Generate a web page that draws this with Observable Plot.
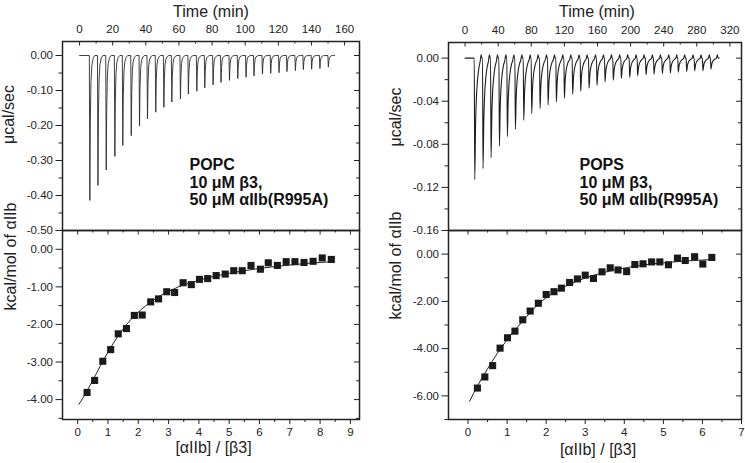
<!DOCTYPE html>
<html><head><meta charset="utf-8">
<script src="https://cdn.jsdelivr.net/npm/d3@7"></script>
<script src="https://cdn.jsdelivr.net/npm/@observablehq/plot@0.6"></script>
<style>
body{margin:0;background:#fff;}
#chart{position:relative;width:745px;height:463px;overflow:hidden;font-family:"Liberation Sans",Arial,sans-serif;}
#chart svg{position:absolute;left:0;top:0;}
</style></head><body><div id="chart"></div>
<script>
// ---------- data ----------
// POPC raw thermogram: injection times (min) and peak heights (µcal/sec)
const popcInjTime = [6.2,11.1,16.1,21.3,26.1,31.2,36.2,41.0,46.0,50.9,55.7,60.9,65.7,70.8,75.6,80.6,85.4,90.5,95.5,100.5,105.3,110.4,115.4,120.4,125.2,130.3,135.1,140.1,145.1,150.2];
const popcPeak = [-0.414,-0.371,-0.327,-0.288,-0.257,-0.229,-0.201,-0.181,-0.162,-0.148,-0.133,-0.124,-0.110,-0.102,-0.092,-0.084,-0.077,-0.071,-0.066,-0.062,-0.058,-0.053,-0.051,-0.049,-0.046,-0.043,-0.040,-0.039,-0.037,-0.033];
const popcRun = [0, 154];
const popcShapeDt = [-0.3, 0, 0.3, 0.7, 1.2, 2.0, 3.0];
const popcShapeFrac = [0, 1, 0.45, 0.18, 0.07, 0.02, 0];
const popcShapeLift = [0, 0, 0, 0, 0, 0, 0];

// POPS raw thermogram
const popsInjTime = [11.7,21.7,31.4,41.5,51.1,60.8,70.9,80.5,90.6,100.3,110.3,120.0,130.0,139.7,149.8,159.4,169.1,179.1,188.8,198.9,208.5,218.6,228.3,238.3,248.0,257.6,267.7,277.4,287.4,297.1];
const popsPeak = [-0.1126,-0.1026,-0.0924,-0.0816,-0.0729,-0.0660,-0.0577,-0.0515,-0.0468,-0.0434,-0.0406,-0.0372,-0.0335,-0.0307,-0.0279,-0.0251,-0.0220,-0.0205,-0.0189,-0.0180,-0.0164,-0.0155,-0.0149,-0.0143,-0.0140,-0.0130,-0.0124,-0.0118,-0.0118,-0.0102];
const popsRun = [0, 307];
const popsShapeDt = [-0.6, 0, 1.0, 2.0, 3.5, 5.0, 6.5, 7.8, 8.6];
const popsShapeFrac = [0, 1, 0.55, 0.33, 0.17, 0.08, 0.03, 0, 0];
const popsShapeLift = [0, 0, 0, 0, 0, 0, 0, 0.003, 0];

// integrated heats
const popcRatio = [0.31,0.56,0.83,1.09,1.34,1.61,1.87,2.13,2.41,2.67,2.94,3.20,3.48,3.75,4.02,4.29,4.57,4.87,5.15,5.43,5.72,6.03,6.29,6.59,6.88,7.17,7.47,7.77,8.07,8.37];
const popcHeat = [-3.81,-3.49,-2.98,-2.67,-2.25,-2.11,-1.76,-1.75,-1.40,-1.32,-1.13,-1.15,-0.89,-0.94,-0.80,-0.78,-0.70,-0.66,-0.57,-0.57,-0.43,-0.53,-0.36,-0.43,-0.33,-0.33,-0.35,-0.32,-0.23,-0.27];
const popcFitRatio = [0.05,0.3,0.6,0.9,1.2,1.5,1.8,2.1,2.4,2.7,3.0,3.3,3.6,3.9,4.2,4.5,5.0,5.5,6.0,6.5,7.0,7.5,8.0,8.4];
const popcFitHeat = [-4.12,-3.78,-3.33,-2.88,-2.47,-2.12,-1.83,-1.60,-1.41,-1.25,-1.12,-1.01,-0.92,-0.85,-0.78,-0.72,-0.64,-0.57,-0.51,-0.46,-0.42,-0.38,-0.35,-0.33];

const popsRatio = [0.24,0.43,0.63,0.82,1.01,1.20,1.40,1.59,1.80,2.00,2.20,2.39,2.60,2.80,3.00,3.21,3.43,3.64,3.84,4.06,4.27,4.48,4.70,4.91,5.13,5.36,5.56,5.80,6.01,6.24];
const popsHeat = [-5.67,-5.20,-4.72,-3.98,-3.54,-3.26,-2.78,-2.41,-2.08,-1.71,-1.59,-1.44,-1.20,-1.05,-0.89,-1.03,-0.75,-0.58,-0.67,-0.74,-0.44,-0.41,-0.33,-0.33,-0.45,-0.17,-0.27,-0.11,-0.42,-0.14];
const popsFitRatio = [0.04,0.25,0.5,0.75,1.0,1.25,1.5,1.75,2.0,2.25,2.5,2.75,3.0,3.25,3.5,3.75,4.0,4.5,5.0,5.5,6.0,6.25];
const popsFitHeat = [-6.23,-5.55,-4.85,-4.20,-3.63,-3.12,-2.65,-2.20,-1.85,-1.58,-1.36,-1.17,-1.01,-0.88,-0.77,-0.67,-0.59,-0.46,-0.37,-0.30,-0.25,-0.23];

// axis ticks
const popcTimeTicks = [0,20,40,60,80,100,120,140,160];
const popcTimeMinor = [10,30,50,70,90,110,130,150];
const popcRateTicks = [0,-0.1,-0.2,-0.3,-0.4,-0.5];
const popcRateMinor = [-0.05,-0.15,-0.25,-0.35,-0.45];
const popcRatioTicks = [0,1,2,3,4,5,6,7,8,9];
const popcRatioMinor = [0.5,1.5,2.5,3.5,4.5,5.5,6.5,7.5,8.5];
const popcHeatTicks = [0,-1,-2,-3,-4];
const popcHeatMinor = [-0.5,-1.5,-2.5,-3.5,-4.5];

const popsTimeTicks = [0,40,80,120,160,200,240,280,320];
const popsTimeMinor = [20,60,100,140,180,220,260,300];
const popsRateTicks = [0,-0.04,-0.08,-0.12,-0.16];
const popsRateMinor = [-0.02,-0.06,-0.10,-0.14];
const popsRatioTicks = [0,1,2,3,4,5,6,7];
const popsRatioMinor = [0.5,1.5,2.5,3.5,4.5,5.5,6.5];
const popsHeatTicks = [0,-2,-4,-6];
const popsHeatMinor = [1,-1,-3,-5,-7];

const popcLabel = ["POPC", "10 μM β3,", "50 μM αIIb(R995A)"];
const popsLabel = ["POPS", "10 μM β3,", "50 μM αIIb(R995A)"];
const timeTitle = "Time (min)";
const rateTitle = "μcal/sec";
const heatTitle = "kcal/mol of αIIb";
const ratioTitle = "[αIIb] / [β3]";

// ---------- build ----------
const W = 745, H = 463;
const INK = "#222";
const FONT = "Liberation Sans, Arial, sans-serif";

function buildTrace(times, peaks, dts, fracs, lifts, run) {
  const pts = [{t: run[0], v: 0}];
  times.forEach((t0, i) => {
    dts.forEach((dt, j) => pts.push({t: t0 + dt, v: peaks[i] * fracs[j] + lifts[j]}));
  });
  pts.push({t: run[1], v: 0});
  return pts;
}

function panel({mL, mR, mT, mB, xDomain, yDomain, xTicks, xMinor, yTicks, yMinor, top, yFmt, marks}) {
  const pw = W - mL - mR, ph = H - mT - mB;
  const axisMarks = [
    Plot.frame({stroke: INK, strokeWidth: 1.5}),
    Plot.axisY({anchor: "left", ticks: yTicks, tickSize: 6.5, tickPadding: 3, tickFormat: yFmt, label: null, fontSize: 11.5, color: INK}),
    Plot.tickY(yMinor, {y: d => d, insetLeft: -3.5, insetRight: pw, stroke: INK}),
    Plot.tickY(yTicks, {y: d => d, insetLeft: pw - 5, stroke: INK}),
    Plot.tickY(yMinor, {y: d => d, insetLeft: pw - 3, stroke: INK})
  ];
  if (top) {
    axisMarks.push(
      Plot.axisX({anchor: "top", ticks: xTicks, tickSize: 0, tickPadding: 9, tickFormat: d => String(d), label: null, fontSize: 11.5, color: INK}),
      Plot.tickX(xTicks, {x: d => d, insetBottom: ph - 4.5, stroke: INK}),
      Plot.tickX(xMinor, {x: d => d, insetBottom: ph - 2.5, stroke: INK})
    );
  } else {
    axisMarks.push(
      Plot.axisX({anchor: "bottom", ticks: xTicks, tickSize: 5, tickPadding: 3, tickFormat: d => String(d), label: null, fontSize: 11.5, color: INK}),
      Plot.tickX(xMinor, {x: d => d, insetTop: ph, insetBottom: -3, stroke: INK}),
      Plot.tickX(xTicks, {x: d => d, insetBottom: ph - 4.5, stroke: INK}),
      Plot.tickX(xMinor, {x: d => d, insetBottom: ph - 2.5, stroke: INK})
    );
  }
  return Plot.plot({
    width: W, height: H,
    marginLeft: mL, marginRight: mR, marginTop: mT, marginBottom: mB,
    x: {domain: xDomain},
    y: {domain: yDomain},
    style: {background: "transparent", overflow: "visible", fontFamily: FONT, color: INK},
    marks: [...marks, ...axisMarks]
  });
}

const fmt2 = d => d.toFixed(2);
const titleStyle = {fontSize: 16, fill: INK, fontFamily: FONT};

function annot(lines, dx, dy) {
  return Plot.text([lines.join("\n")], {text: d => d, frameAnchor: "top-left", dx, dy, textAnchor: "start", lineAnchor: "top", fontWeight: "bold", fontSize: 16, lineHeight: 1.1, fill: "#111", fontFamily: FONT});
}

const chart = document.getElementById("chart");

// POPC raw
chart.append(panel({
  mL: 62, mR: W - 359, mT: 41, mB: H - 230,
  xDomain: [-10.3, 169], yDomain: [-0.5, 0.04],
  xTicks: popcTimeTicks, xMinor: popcTimeMinor, yTicks: popcRateTicks, yMinor: popcRateMinor, top: true, yFmt: fmt2,
  marks: [
    Plot.line(buildTrace(popcInjTime, popcPeak, popcShapeDt, popcShapeFrac, popcShapeLift, popcRun), {x: "t", y: "v", stroke: "#2a2a2a", strokeWidth: 0.9}),
    annot(popcLabel, 127, 116),
    Plot.text([timeTitle], {text: d => d, frameAnchor: "top", dy: -36, ...titleStyle}),
    Plot.text([rateTitle], {text: d => d, frameAnchor: "left", dx: -54, dy: 8, rotate: -90, ...titleStyle})
  ]
}));

// POPC integrated
chart.append(panel({
  mL: 62, mR: W - 359, mT: 230, mB: H - 419,
  xDomain: [-0.5, 9.3], yDomain: [-4.53, 0.5],
  xTicks: popcRatioTicks, xMinor: popcRatioMinor, yTicks: popcHeatTicks, yMinor: popcHeatMinor, top: false, yFmt: fmt2,
  marks: [
    Plot.line(popcFitRatio.map((r, i) => ({r, h: popcFitHeat[i]})), {x: "r", y: "h", stroke: INK, strokeWidth: 1, curve: "natural"}),
    Plot.dot(popcRatio.map((r, i) => ({r, h: popcHeat[i]})), {x: "r", y: "h", symbol: "square", r: 4, fill: "#1a1a1a", stroke: "none"}),
    Plot.text([ratioTitle], {text: d => d, frameAnchor: "bottom", dx: 2.5, dy: 33, ...titleStyle}),
    Plot.text([heatTitle], {text: d => d, frameAnchor: "left", dx: -52, dy: -14.5, rotate: -90, ...titleStyle})
  ]
}));

// POPS raw
chart.append(panel({
  mL: 448, mR: W - 741, mT: 42, mB: H - 230,
  xDomain: [-20, 334], yDomain: [-0.16, 0.0145],
  xTicks: popsTimeTicks, xMinor: popsTimeMinor, yTicks: popsRateTicks, yMinor: popsRateMinor, top: true, yFmt: fmt2,
  marks: [
    Plot.line(buildTrace(popsInjTime, popsPeak, popsShapeDt, popsShapeFrac, popsShapeLift, popsRun), {x: "t", y: "v", stroke: "#1e1e1e", strokeWidth: 1.1, curve: "monotone-x"}),
    annot(popsLabel, 131, 115),
    Plot.text([timeTitle], {text: d => d, frameAnchor: "top", dx: 2, dy: -37, ...titleStyle}),
    Plot.text([rateTitle], {text: d => d, frameAnchor: "left", dx: -53, dy: 10, rotate: -90, ...titleStyle})
  ]
}));

// POPS integrated
chart.append(panel({
  mL: 448, mR: W - 741, mT: 230, mB: H - 419,
  xDomain: [-0.5, 7.0], yDomain: [-7, 1],
  xTicks: popsRatioTicks, xMinor: popsRatioMinor, yTicks: popsHeatTicks, yMinor: popsHeatMinor, top: false, yFmt: fmt2,
  marks: [
    Plot.line(popsFitRatio.map((r, i) => ({r, h: popsFitHeat[i]})), {x: "r", y: "h", stroke: INK, strokeWidth: 1, curve: "natural"}),
    Plot.dot(popsRatio.map((r, i) => ({r, h: popsHeat[i]})), {x: "r", y: "h", symbol: "square", r: 4, fill: "#1a1a1a", stroke: "none"}),
    Plot.text([ratioTitle], {text: d => d, frameAnchor: "bottom", dx: 3, dy: 35, ...titleStyle}),
    Plot.text([heatTitle], {text: d => d, frameAnchor: "left", dx: -53, dy: -5.5, rotate: -90, ...titleStyle})
  ]
}));
</script></body></html>
